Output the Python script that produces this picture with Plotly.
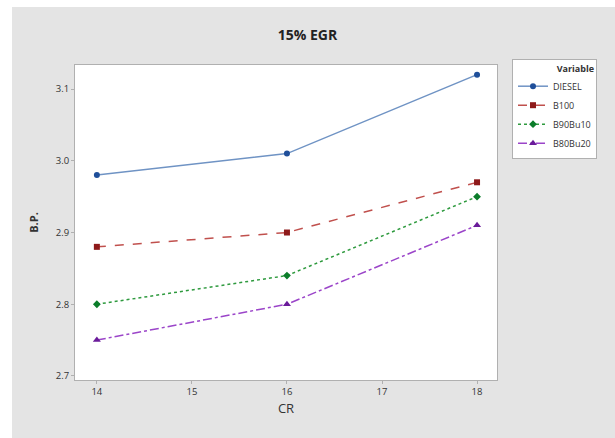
import plotly.graph_objects as go

cr = [14, 16, 18]
series_names = ["DIESEL", "B100", "B90Bu10", "B80Bu20"]
diesel = [2.98, 3.01, 3.12]
b100 = [2.88, 2.90, 2.97]
b90bu10 = [2.80, 2.84, 2.95]
b80bu20 = [2.75, 2.80, 2.91]
x_ticks = [14, 15, 16, 17, 18]
y_ticks = [2.7, 2.8, 2.9, 3.0, 3.1]

values = [diesel, b100, b90bu10, b80bu20]
line_colors = ["#6f93c4", "#c0504d", "#2e9a3e", "#9b45c9"]
marker_colors = ["#1f4f9a", "#8e1a1a", "#0b7d2a", "#6a1b9a"]
dashes = ["solid", "dash", "dot", "dashdot"]
symbols = ["circle", "square", "diamond", "triangle-up"]

fig = go.Figure()
for name, v, lc, mc, d, s in zip(series_names, values, line_colors, marker_colors, dashes, symbols):
    fig.add_trace(go.Scatter(
        x=cr, y=v, name=name, mode="lines+markers",
        line=dict(color=lc, width=1.5, dash=d),
        marker=dict(color=mc, symbol=s, size=6 if s != "triangle-up" else 7),
    ))

axis_common = dict(
    showgrid=False, zeroline=False, showline=True, mirror=True,
    linecolor="#b0b0b0", linewidth=1, ticks="outside", ticklen=3,
    tickcolor="#b0b0b0", tickfont=dict(family="Open Sans", size=9.5, color="#333333"),
)

W, H = 615, 438
L, R, T, B = 75, 118, 65, 58
pw = W - L - R
ph = H - T - B

fig.update_layout(
    width=W, height=H,
    margin=dict(l=L, r=R, t=T, b=B),
    paper_bgcolor="#e4e4e4",
    plot_bgcolor="#ffffff",
    title=dict(text="<b>15% EGR</b>", x=0.5, xref="container", xanchor="center",
               y=1 - 35 / H, yref="container", yanchor="middle",
               font=dict(family="Open Sans", size=14, color="#222222")),
    xaxis=dict(range=[13.77, 18.21], tickvals=x_ticks, ticktext=[str(t) for t in x_ticks],
               title=dict(text="CR", font=dict(family="Open Sans", size=13, color="#333333"), standoff=6),
               **axis_common),
    yaxis=dict(range=[2.6944, 3.1335], tickvals=y_ticks, ticktext=[f"{t:.1f}" for t in y_ticks],
               title=dict(text="<b>B.P.</b>", font=dict(family="Open Sans", size=11, color="#333333"), standoff=14),
               **axis_common),
    legend=dict(
        title=dict(text="<b>Variable</b>", side="top right",
                   font=dict(family="Open Sans", size=9, color="#333333")),
        x=(512 - L) / pw, y=(H - B - 59) / ph, xanchor="left", yanchor="top",
        bgcolor="#ffffff", bordercolor="#b0b0b0", borderwidth=1,
        font=dict(family="Open Sans", size=9, color="#333333"),
        itemwidth=30, tracegroupgap=0,
    ),
    showlegend=True,
    shapes=[
        dict(type="rect", xref="paper", yref="paper", x0=-L / pw - 0.05, x1=(12 - L) / pw,
             y0=-0.3, y1=1.4, fillcolor="#ffffff", line=dict(width=0), layer="below"),
        dict(type="rect", xref="paper", yref="paper", x0=-0.3, x1=1.4,
             y0=(H - B - 7) / ph, y1=(H - B) / ph + 0.05, fillcolor="#ffffff", line=dict(width=0), layer="below"),
    ],
)

fig.write_html(
    "out.html",
    config={"displayModeBar": False},
    post_script="document.body.style.margin='0';document.body.style.overflow='hidden';",
)
